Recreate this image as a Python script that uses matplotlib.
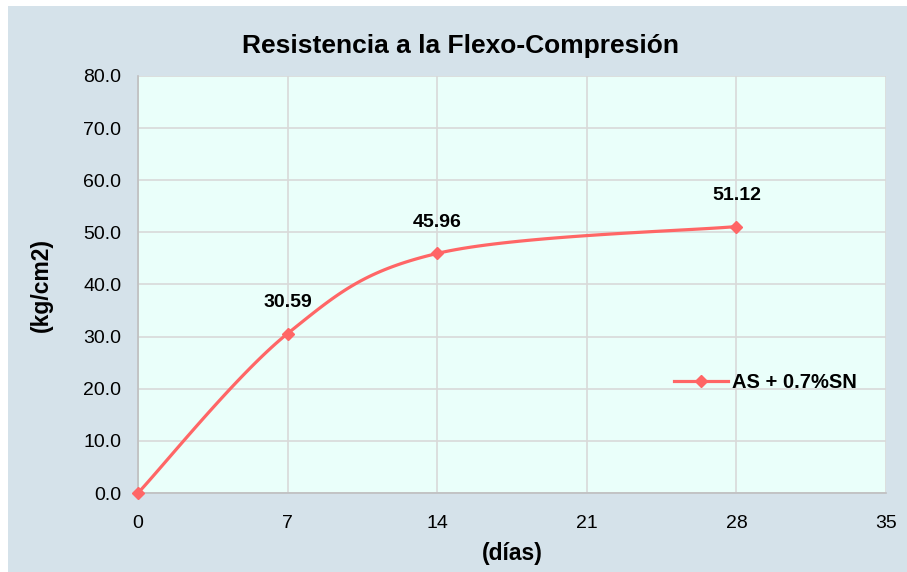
import numpy as np
import matplotlib.pyplot as plt
from matplotlib import font_manager

# curing age (days) and flexo-compression strength (kg/cm2)
dias = [0, 7, 14, 28]
resistencia = [0.0, 30.59, 45.96, 51.12]
etiquetas = ["", "30.59", "45.96", "51.12"]
serie = "AS + 0.7%SN"
x_ticks = [0, 7, 14, 21, 28, 35]
y_ticks = [0, 10, 20, 30, 40, 50, 60, 70, 80]

names = {f.name for f in font_manager.fontManager.ttflist}
narrow = "Liberation Sans Narrow" if "Liberation Sans Narrow" in names else "Liberation Sans"

ROJO = "#ff6666"
FONDO = "#d5e2ea"
AREA = "#eafffa"


def suavizar(x, y, n=40):
    # Catmull-Rom style bezier smoothing between the points
    x = np.asarray(x, float)
    y = np.asarray(y, float)
    px = np.concatenate([[x[0]], x, [x[-1]]])
    py = np.concatenate([[y[0]], y, [y[-1]]])
    xs, ys = [], []
    t = np.linspace(0, 1, n)
    for i in range(1, len(px) - 2):
        p0 = np.array([px[i], py[i]])
        p3 = np.array([px[i + 1], py[i + 1]])
        p1 = p0 + (np.array([px[i + 1], py[i + 1]]) - np.array([px[i - 1], py[i - 1]])) / 6
        p2 = p3 - (np.array([px[i + 2], py[i + 2]]) - np.array([px[i], py[i]])) / 6
        b = ((1 - t) ** 3)[:, None] * p0 + (3 * (1 - t) ** 2 * t)[:, None] * p1 \
            + (3 * (1 - t) * t ** 2)[:, None] * p2 + (t ** 3)[:, None] * p3
        xs.extend(b[:, 0])
        ys.extend(b[:, 1])
    return np.array(xs), np.array(ys)


fig = plt.figure(figsize=(9.07, 5.72), dpi=100)
fig.patch.set_facecolor("white")
# chart background panel (white strip left/top)
fig.patches.append(plt.Rectangle((8 / 907, -0.01), 1, 1.01 - 6 / 572, transform=fig.transFigure,
                                 facecolor=FONDO, edgecolor="none", zorder=-10))

ax = fig.add_axes([138 / 907, 79 / 572, 748 / 907, 417 / 572])
ax.set_facecolor(AREA)

sx, sy = suavizar(dias, resistencia)
ax.plot(sx, sy, color=ROJO, lw=2.3, solid_capstyle="round", zorder=3, clip_on=False)
ax.plot(dias, resistencia, ls="none", marker="D", ms=6.5, color=ROJO, zorder=4, clip_on=False)
ax.plot([], [], color=ROJO, lw=2.3, marker="D", ms=6.5, label=serie)

for xv, yv, txt in zip(dias, resistencia, etiquetas):
    if txt:
        ax.annotate(txt, (xv, yv), xytext=(0, 22), textcoords="offset points",
                    ha="center", va="center", fontsize=14, fontweight="bold",
                    family=narrow, color="black")

ax.set_xlim(0, 35)
ax.set_ylim(0, 80)
ax.set_xticks(x_ticks)
ax.set_yticks(y_ticks)
ax.set_yticklabels([f"{v:.1f}" for v in y_ticks])
ax.tick_params(length=0, labelsize=14)
for lab in ax.get_xticklabels() + ax.get_yticklabels():
    lab.set_family(narrow)
ax.tick_params(axis="x", pad=16)
ax.tick_params(axis="y", pad=12)
ax.grid(True, color="#d9d9d9", lw=1.2)
ax.set_axisbelow(True)
for s in ["top", "right"]:
    ax.spines[s].set_visible(False)
for s in ["left", "bottom"]:
    ax.spines[s].set_color("#bfbfbf")
    ax.spines[s].set_linewidth(1.2)

ax.set_xlabel("(días)", fontsize=16.5, fontweight="bold", family=narrow, labelpad=7)
ax.set_ylabel("(kg/cm2)", fontsize=16.5, fontweight="bold", family=narrow, labelpad=22)
fig.text(461 / 907, 1 - 46 / 572, "Resistencia a la Flexo-Compresión", ha="center",
         va="center", fontsize=19, fontweight="bold", family="Liberation Sans")

leg = ax.legend(loc="center left", bbox_to_anchor=(0.692, 0.265), frameon=False,
                prop={"family": narrow, "weight": "bold", "size": 14.5},
                handlelength=2.7, handletextpad=0.2)

fig.savefig("out.png", dpi=100, facecolor=fig.get_facecolor())
